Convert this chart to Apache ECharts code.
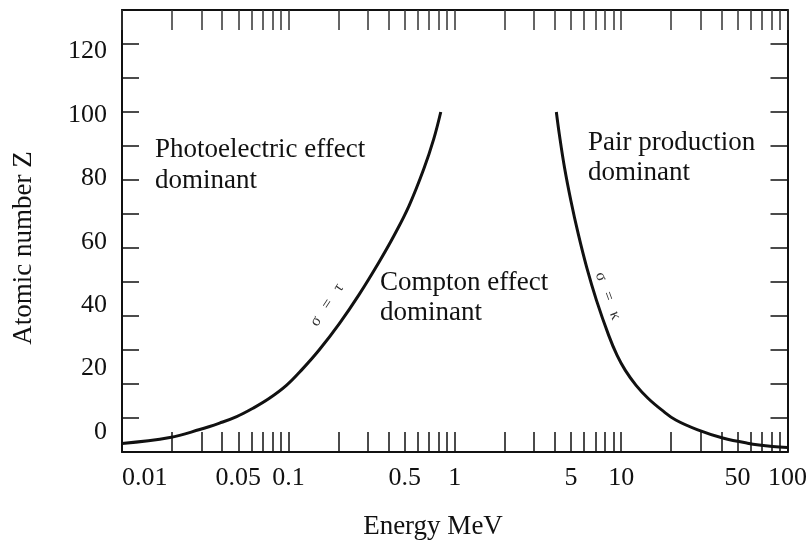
<!DOCTYPE html>
<html><head><meta charset="utf-8">
<script src="https://cdn.jsdelivr.net/npm/echarts@6/dist/echarts.min.js"></script>
<style>html,body{margin:0;padding:0;background:#fff}#c{width:810px;height:542px}</style>
</head><body><div id="c"></div>
<script>
// sigma = tau boundary (photoelectric / Compton)
const energyTau = [0.01, 0.0194, 0.0293, 0.0386, 0.0489, 0.0609, 0.0769, 0.0973, 0.121, 0.153, 0.202, 0.266, 0.351, 0.431, 0.531, 0.652, 0.748, 0.824];
const zTau      = [2.5, 4.25, 6.6, 8.5, 10.4, 12.8, 15.8, 19.6, 24.3, 30.0, 37.7, 46.3, 55.9, 63.6, 72.4, 83.3, 92.1, 100];
// sigma = kappa boundary (Compton / pair production)
const energyKappa = [4.08, 4.25, 4.57, 4.99, 5.52, 6.21, 7.11, 8.42, 9.46, 10.6, 12.3, 14.5, 17.6, 21.3, 28.9, 40.8, 57.5, 81.3, 100];
const zKappa      = [100, 93.5, 83.6, 73.9, 64.2, 54.3, 44.6, 34.3, 28.4, 24.0, 19.6, 15.8, 12.3, 9.4, 6.5, 4.1, 2.6, 1.6, 1.3];

const xLabelValues = [0.01, 0.05, 0.1, 0.5, 1, 5, 10, 50, 100];
const xTickValues = [0.01, 0.02, 0.03, 0.04, 0.05, 0.06, 0.07, 0.08, 0.09,
  0.1, 0.2, 0.3, 0.4, 0.5, 0.6, 0.7, 0.8, 0.9,
  1, 2, 3, 4, 5, 6, 7, 8, 9,
  10, 20, 30, 40, 50, 60, 70, 80, 90, 100];
const yLabelValues = [0, 20, 40, 60, 80, 100, 120];

const xTitle = 'Energy MeV';
const yTitle = 'Atomic number Z';
const regionTexts = ['Photoelectric effect\ndominant', 'Compton effect\ndominant', 'Pair production\ndominant'];
const curveTexts = ['σ   =   τ', 'σ   =   κ'];

const FONT = '"Liberation Serif","Times New Roman",serif';
const ink = '#111';

const chart = echarts.init(document.getElementById('c'), null, {renderer: 'canvas'});

function txt(text, x, y, size, opts) {
  opts = opts || {};
  return {
    type: 'text', x: x, y: y, rotation: opts.rotation || 0, z: 10,
    style: {
      text: text, font: size + 'px ' + FONT, fill: opts.fill || ink,
      textAlign: opts.align || 'center', textVerticalAlign: 'middle',
      align: opts.align || 'center', verticalAlign: 'middle',
      lineHeight: opts.lineHeight || size
    }
  };
}

const frameAxis = {
  axisLine: {show: true, onZero: false, lineStyle: {color: ink, width: 2}},
  splitLine: {show: false},
  minorTick: {show: false},
  minorSplitLine: {show: false}
};

const option = {
  animation: false,
  backgroundColor: '#fff',
  grid: {left: 122, right: 20, top: 10, bottom: 90, containLabel: false},
  xAxis: [
    Object.assign({
      type: 'log', logBase: 10, min: 0.01, max: 100, position: 'bottom',
      axisTick: {show: true, inside: true, length: 20, customValues: xTickValues, lineStyle: {color: ink, width: 1.5}},
      axisLabel: {show: true, customValues: xLabelValues, margin: 13, fontFamily: FONT, fontSize: 26, color: ink,
        alignMinLabel: 'left',
        formatter: function (v) { return String(+(+v).toPrecision(3)); }}
    }, frameAxis),
    Object.assign({
      type: 'log', logBase: 10, min: 0.01, max: 100, position: 'top',
      axisTick: {show: true, inside: true, length: 20, customValues: xTickValues, lineStyle: {color: '#333', width: 1.5}},
      axisLabel: {show: false}
    }, frameAxis)
  ],
  yAxis: [
    Object.assign({
      type: 'value', min: 0, max: 130, interval: 10, position: 'left',
      axisTick: {show: true, inside: true, length: 17, lineStyle: {color: ink, width: 1.5}},
      axisLabel: {show: false}
    }, frameAxis),
    Object.assign({
      type: 'value', min: 0, max: 130, interval: 10, position: 'right',
      axisTick: {show: true, inside: true, length: 17, lineStyle: {color: ink, width: 1.5}},
      axisLabel: {show: false}
    }, frameAxis),
    {
      type: 'value', min: -6.3, max: 133.1, position: 'left',
      axisLine: {show: false}, axisTick: {show: false}, splitLine: {show: false},
      axisLabel: {show: true, customValues: yLabelValues, margin: 15, fontFamily: FONT, fontSize: 26, color: ink}
    }
  ],
  series: [
    {type: 'line', xAxisIndex: 0, yAxisIndex: 0, smooth: 0.4, showSymbol: false, silent: true,
     lineStyle: {color: ink, width: 3}, data: energyTau.map(function (e, i) { return [e, zTau[i]]; })},
    {type: 'line', xAxisIndex: 0, yAxisIndex: 0, smooth: 0.4, showSymbol: false, silent: true,
     lineStyle: {color: ink, width: 3}, data: energyKappa.map(function (e, i) { return [e, zKappa[i]]; })}
  ],
  graphic: [
    txt(xTitle, 433, 527, 27),
    txt(yTitle, 24, 248, 27, {rotation: Math.PI / 2}),
    txt(regionTexts[0], 155, 165, 27, {align: 'left', lineHeight: 31}),
    txt(regionTexts[1], 380, 298, 27, {align: 'left', lineHeight: 30}),
    txt(regionTexts[2], 588, 158, 27, {align: 'left', lineHeight: 30}),
    txt(curveTexts[0], 327, 305, 16, {rotation: 56 * Math.PI / 180, fill: '#333'}),
    txt(curveTexts[1], 608, 296, 16, {rotation: -70 * Math.PI / 180, fill: '#333'})
  ]
};
chart.setOption(option);
</script>
</body></html>
